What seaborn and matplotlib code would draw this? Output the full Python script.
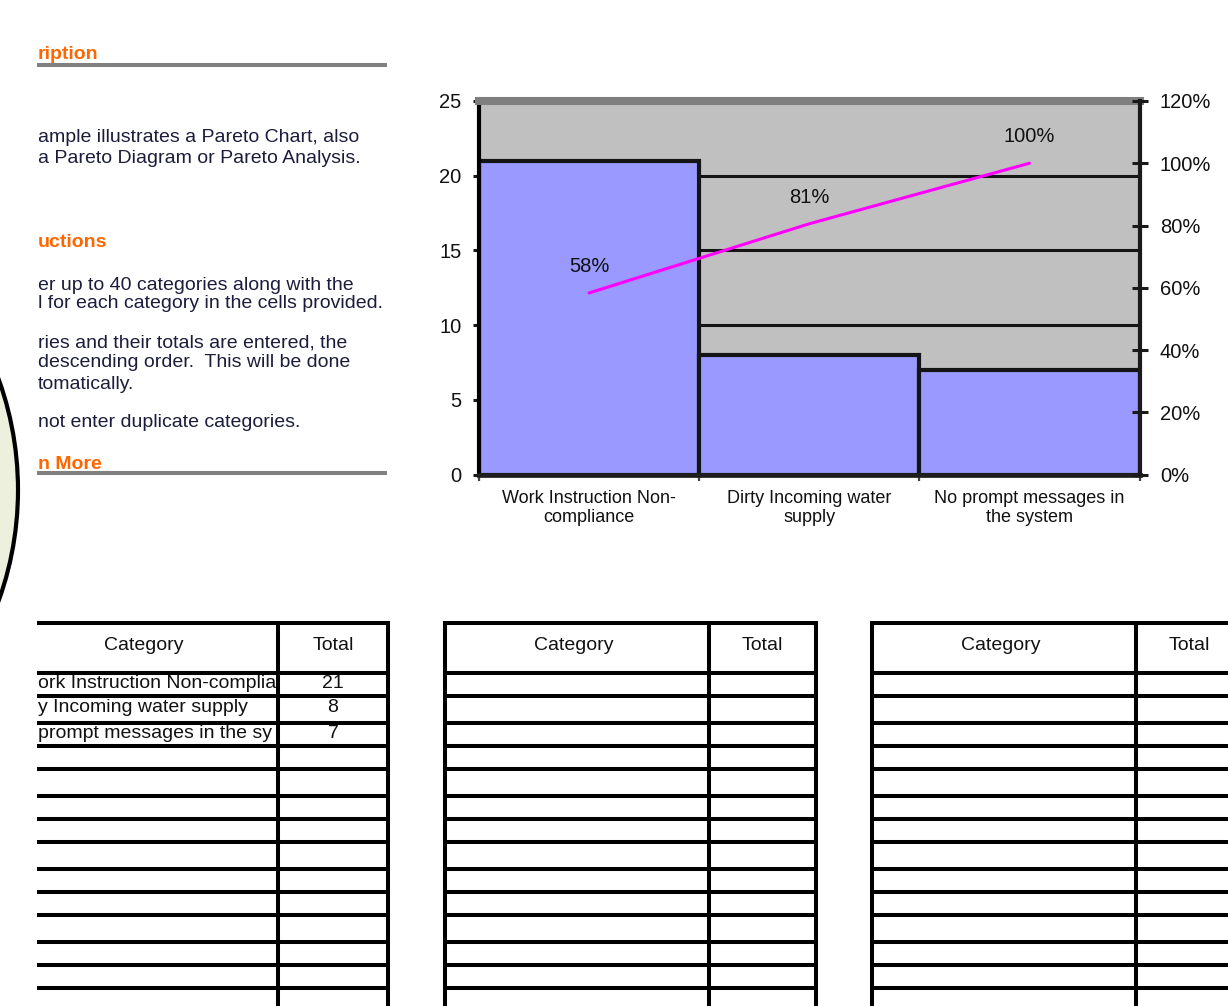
import numpy as np
import pandas as pd
import matplotlib
matplotlib.use("Agg")
import matplotlib.pyplot as plt
from matplotlib.ticker import PercentFormatter, FixedLocator
from matplotlib.patches import Circle
import seaborn as sns

# ---------------- data ----------------
categories = ["Work Instruction Non-compliance",
              "Dirty Incoming water supply",
              "No prompt messages in the system"]
tick_labels = ["Work Instruction Non-\ncompliance",
               "Dirty Incoming water\nsupply",
               "No prompt messages in\nthe system"]
totals = [21, 8, 7]
left_ticks = [0, 5, 10, 15, 20, 25]
right_ticks = [0.0, 0.2, 0.4, 0.6, 0.8, 1.0, 1.2]
table_headers = ["Category", "Total"]

# the page is cropped at its left edge: only these parts of the texts show
heading_texts = ["ription", "uctions", "n More"]
body_texts = [
    "ample illustrates a Pareto Chart, also",
    "a Pareto Diagram or Pareto Analysis.",
    "er up to 40 categories along with the",
    "l for each category in the cells provided.",
    "ries and their totals are entered, the",
    "descending order.  This will be done",
    "tomatically.",
    "not enter duplicate categories.",
]
row_texts = ["ork Instruction Non-complia",
             "y Incoming water supply",
             "prompt messages in the sy"]

# ---------------- style ----------------
sns.set_theme(style="ticks")
plt.rcParams["font.family"] = ["Liberation Sans", "DejaVu Sans"]
plt.rcParams["text.color"] = "#111111"

W, H = 1228, 1006
fig = plt.figure(figsize=(W / 100, H / 100), dpi=100)
fig.patch.set_facecolor("white")

# overlay (page) axes in pixel coordinates, clipped at x=37
ov = fig.add_axes([37 / W, 0, (W - 37) / W, 1], zorder=0)
ov.set_xlim(37, W)
ov.set_ylim(H, 0)
ov.axis("off")

# clip-art circle at far left
ov.add_patch(Circle((-309, 490), 327, facecolor="#EEF0DE", edgecolor="black",
                    lw=3, clip_on=False, zorder=0))

# headings and rules
orange = "#FF6600"
for txt, yb in zip(heading_texts, [59, 247, 469]):
    ov.text(38, yb, txt, ha="left", va="baseline", color=orange,
            fontsize=14, fontweight="bold")
ov.hlines([64.5, 473], 37, 387, color="#808080", lw=2.9)

body_base = [142, 163, 290, 308, 347, 367, 389, 427]
for txt, yb in zip(body_texts, body_base):
    ov.text(38, yb, txt, ha="left", va="baseline", color="#1c1c3c",
            fontsize=14)

# tables
row_lines = [623, 672.5, 696, 722.5, 746, 769, 796, 819, 842, 869,
             892, 915, 942, 965, 988]
tables = [(16, 278, 388), (445, 709, 816), (872, 1136, 1243)]
for (xl, xm, xr) in tables:
    ov.hlines(row_lines, xl, xr + 2, color="black", lw=2.9, clip_on=True)
    ov.vlines([xl, xm, xr], 621, H + 5, color="black", lw=2.9, clip_on=True)
    ov.text((xl + xm) / 2 - 3, 645, table_headers[0], ha="center", va="center",
            fontsize=14)
    ov.text((xm + xr) / 2, 645, table_headers[1], ha="center", va="center",
            fontsize=14)

row_mid = [683, 708, 733]
for txt, val, ym in zip(row_texts, totals, row_mid):
    ov.text(38, ym, txt, ha="left", va="center", fontsize=14)
    ov.text(333, ym, str(val), ha="center", va="center", fontsize=14)

# ---------------- chart ----------------
df = pd.DataFrame({"pos": np.arange(len(totals)), "category": categories,
                   "total": totals})
df["cum"] = np.cumsum(df["total"]) / df["total"].sum()

ax = fig.add_axes([479 / W, 1 - 474.5 / H, (1139.5 - 479) / W, (474.5 - 101) / H],
                  zorder=2)
ax.set_facecolor("#C0C0C0")
sns.barplot(data=df, x="pos", y="total", native_scale=True, orient="x",
            width=1.0, color="#9999FF", saturation=1,
            edgecolor="#141414", linewidth=3, ax=ax)
ax.set_axisbelow(True)
ax.yaxis.grid(True, color="#151515", linewidth=2.2)
ax.xaxis.grid(False)

ax2 = ax.twinx()
sns.lineplot(data=df, x="pos", y="cum", ax=ax2, color="#FF00FF",
             linewidth=2.2)
for xv, yv in zip(df["pos"], df["cum"]):
    ax2.annotate(f"{round(yv * 100)}%", xy=(xv, yv), xytext=(0, 19),
                 textcoords="offset points", ha="center", va="center",
                 fontsize=14.5, color="#111111")

n = len(totals)
ax.set_xlim(-0.5, n - 0.5)
ax.set_ylim(left_ticks[0], left_ticks[-1])
ax.set_yticks(left_ticks)
ax.set_xticks(df["pos"], tick_labels)
ax.xaxis.set_minor_locator(FixedLocator(np.arange(n + 1) - 0.5))
ax2.set_ylim(right_ticks[0], right_ticks[-1])
ax2.set_yticks(right_ticks)
ax2.yaxis.set_major_formatter(PercentFormatter(xmax=1, decimals=0))
ax.set_xlabel("")
ax.set_ylabel("")
ax2.set_xlabel("")
ax2.set_ylabel("")

ax.spines["top"].set(color="#7f7f7f", linewidth=5.8, visible=True)
ax.spines["left"].set(color="black", linewidth=3)
ax.spines["bottom"].set(color="#1e1e1e", linewidth=3.4)
ax.spines["right"].set_visible(False)
for s in ["top", "left", "bottom"]:
    ax2.spines[s].set_visible(False)
ax2.spines["right"].set(color="#1a1a1a", linewidth=3, visible=True)

ax.tick_params(axis="y", which="major", left=True, direction="out", length=4.5,
               width=2.2, color="#1a1a1a", labelsize=14.5, pad=8,
               labelcolor="#111111")
ax.tick_params(axis="x", which="major", bottom=True, length=0, pad=11,
               labelsize=13, labelcolor="#111111")
ax.tick_params(axis="x", which="minor", bottom=True, direction="out",
               length=4, width=1.6, color="#444444")
ax2.tick_params(axis="y", right=True, direction="inout", length=11.5,
                width=2.2, color="#1a1a1a", labelsize=14.5, pad=9,
                labelcolor="#111111")

fig.savefig("out.png", dpi=100)
